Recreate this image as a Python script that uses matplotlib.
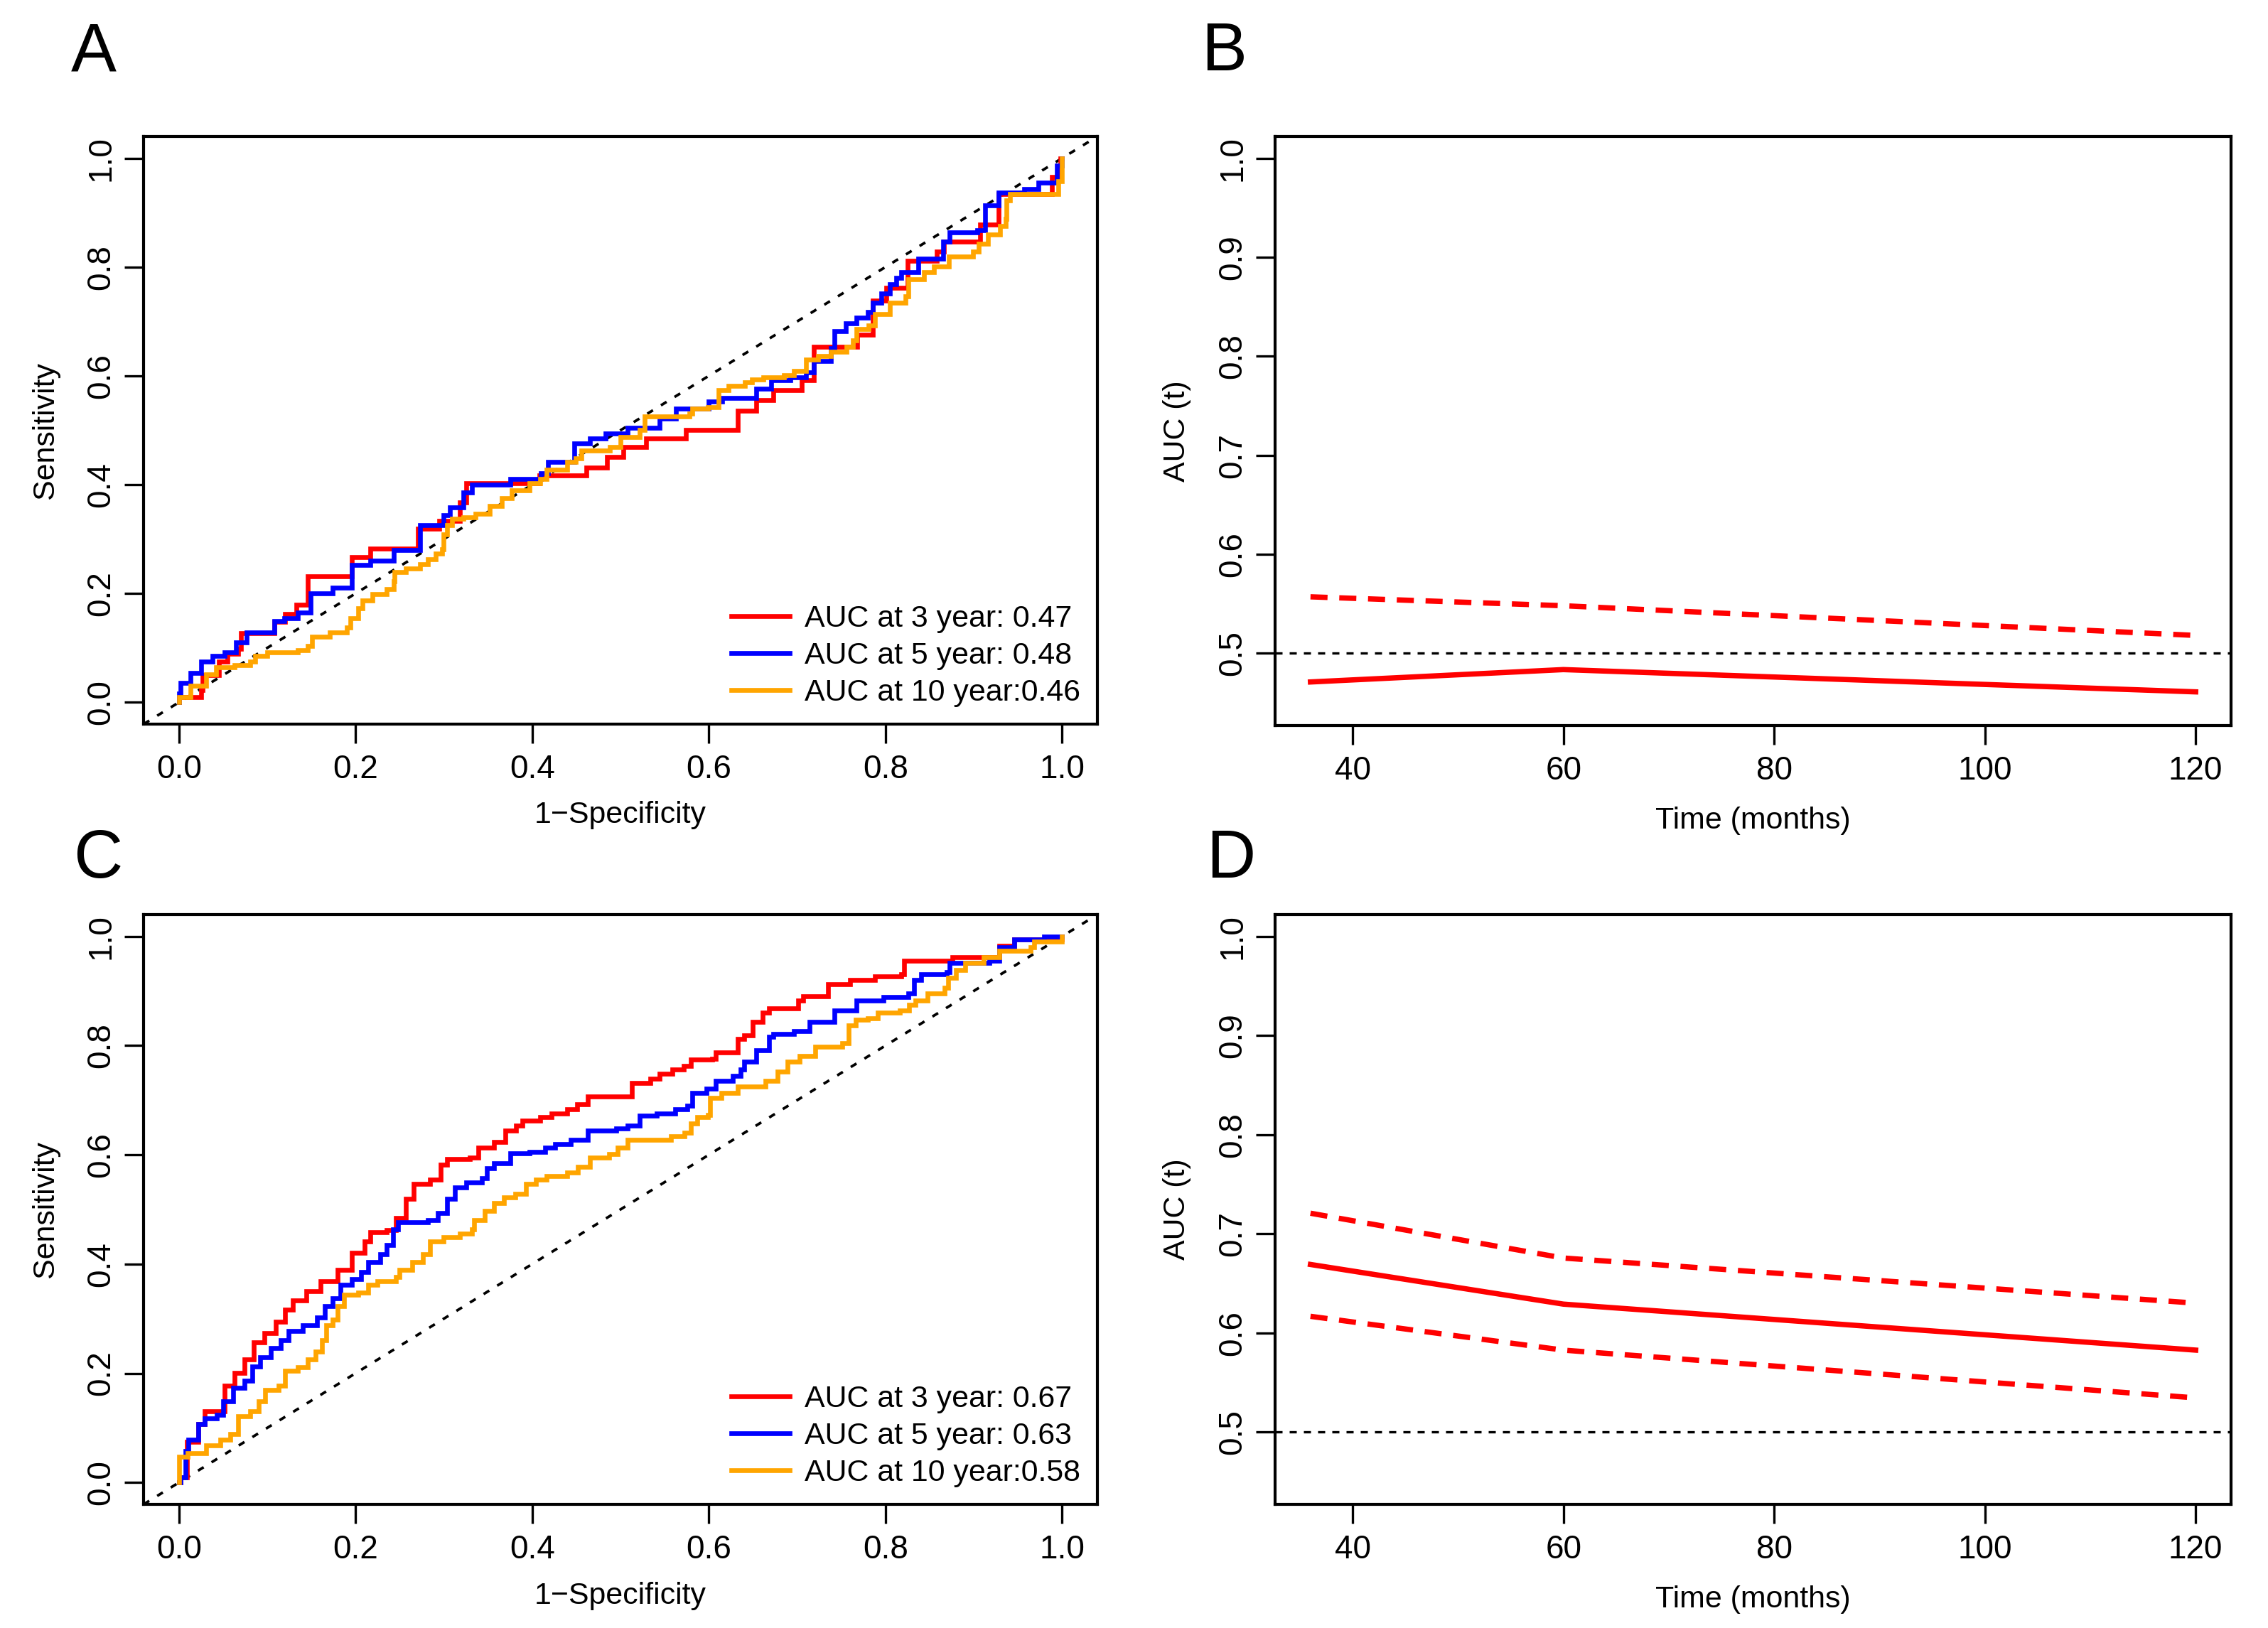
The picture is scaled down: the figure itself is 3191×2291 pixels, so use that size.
import matplotlib
matplotlib.use("Agg")
import matplotlib.pyplot as plt
from matplotlib.lines import Line2D

plt.rcParams['font.family'] = ['Liberation Sans', 'DejaVu Sans']

# ---------------- data ----------------
# Panel A ROC (training-like set)
a_red_x = [0, 0, 0.025, 0.027, 0.045, 0.055, 0.0667, 0.070, 0.108, 0.12, 0.133, 0.146, 0.196, 0.217,
           0.271, 0.2945, 0.318, 0.325, 0.408, 0.461, 0.485, 0.503, 0.529, 0.574, 0.633, 0.654,
           0.673, 0.705, 0.719, 0.768, 0.786, 0.801, 0.825, 0.858, 0.866, 0.907, 0.928, 0.9887, 0.998, 1.0]
a_red_y = [0, 0.009, 0.023, 0.05, 0.075, 0.089, 0.099, 0.127, 0.148, 0.162, 0.18, 0.232, 0.267, 0.282,
           0.319, 0.333, 0.368, 0.403, 0.417, 0.432, 0.451, 0.469, 0.485, 0.501, 0.536, 0.555,
           0.574, 0.592, 0.654, 0.675, 0.738, 0.762, 0.812, 0.829, 0.847, 0.878, 0.934, 0.965, 1.0, 1.0]

a_blue_x = [0, 0, 0.002, 0.013, 0.025, 0.038, 0.052, 0.065, 0.077, 0.108, 0.119, 0.135, 0.149, 0.174,
            0.196, 0.217, 0.243, 0.273, 0.3, 0.307, 0.322, 0.332, 0.375, 0.41, 0.418, 0.448, 0.465,
            0.483, 0.508, 0.544, 0.563, 0.6, 0.615, 0.654, 0.671, 0.692, 0.71, 0.719, 0.738, 0.742,
            0.755, 0.767, 0.78, 0.786, 0.795, 0.805, 0.812, 0.818, 0.837, 0.865, 0.873, 0.904, 0.913,
            0.928, 0.957, 0.973, 0.994, 1.0]
a_blue_y = [0, 0.016, 0.036, 0.054, 0.075, 0.085, 0.092, 0.11, 0.128, 0.149, 0.155, 0.165, 0.2, 0.211,
            0.253, 0.26, 0.28, 0.326, 0.344, 0.358, 0.386, 0.4, 0.41, 0.421, 0.442, 0.476, 0.485,
            0.494, 0.505, 0.522, 0.54, 0.553, 0.559, 0.576, 0.592, 0.597, 0.606, 0.627, 0.651, 0.682,
            0.696, 0.707, 0.717, 0.735, 0.752, 0.768, 0.78, 0.791, 0.815, 0.847, 0.864, 0.867, 0.913,
            0.937, 0.944, 0.955, 0.986, 1.0]

a_orange_x = [0, 0, 0.013, 0.031, 0.042, 0.063, 0.081, 0.086, 0.1, 0.135, 0.146, 0.151, 0.171, 0.19,
              0.194, 0.203, 0.208, 0.219, 0.235, 0.243, 0.244, 0.257, 0.273, 0.282, 0.291, 0.298,
              0.3, 0.304, 0.309, 0.322, 0.336, 0.352, 0.366, 0.377, 0.397, 0.409, 0.416, 0.44, 0.449,
              0.456, 0.488, 0.5, 0.522, 0.527, 0.578, 0.581, 0.599, 0.611, 0.622, 0.641, 0.649, 0.662,
              0.685, 0.696, 0.71, 0.724, 0.738, 0.756, 0.763, 0.767, 0.781, 0.788, 0.805, 0.823,
              0.826, 0.844, 0.855, 0.872, 0.899, 0.906, 0.916, 0.93, 0.936, 0.937, 0.941, 0.974,
              0.996, 1.0]
a_orange_y = [0, 0.01, 0.03, 0.051, 0.064, 0.068, 0.075, 0.085, 0.092, 0.096, 0.103, 0.12, 0.128, 0.138,
              0.155, 0.173, 0.187, 0.199, 0.208, 0.222, 0.239, 0.246, 0.254, 0.263, 0.274, 0.281,
              0.309, 0.326, 0.337, 0.34, 0.347, 0.361, 0.375, 0.389, 0.403, 0.41, 0.428, 0.442, 0.449,
              0.463, 0.469, 0.487, 0.501, 0.525, 0.531, 0.54, 0.543, 0.574, 0.581, 0.588, 0.594, 0.597,
              0.601, 0.609, 0.63, 0.637, 0.644, 0.654, 0.665, 0.686, 0.693, 0.714, 0.735, 0.746,
              0.777, 0.791, 0.801, 0.819, 0.829, 0.843, 0.86, 0.876, 0.888, 0.923, 0.934, 0.934,
              0.958, 1.0]

# Panel C ROC (validation-like set)
c_red_x = [0, 0.002, 0.009, 0.022, 0.029, 0.045, 0.052, 0.063, 0.074, 0.085, 0.097, 0.11, 0.12, 0.129,
           0.144, 0.16, 0.18, 0.196, 0.21, 0.217, 0.235, 0.246, 0.257, 0.266, 0.284, 0.296, 0.3035,
           0.329, 0.339, 0.357, 0.37, 0.382, 0.389, 0.409, 0.422, 0.44, 0.451, 0.463, 0.504, 0.513,
           0.534, 0.544, 0.5585, 0.572, 0.58, 0.604, 0.608, 0.631, 0.633, 0.64, 0.65, 0.661, 0.668,
           0.696, 0.701, 0.707, 0.731, 0.735, 0.76, 0.788, 0.818, 0.821, 0.874, 0.876, 0.922, 0.929,
           0.946, 0.978, 1.0]
c_red_y = [0, 0.009, 0.075, 0.107, 0.131, 0.131, 0.177, 0.201, 0.226, 0.257, 0.274, 0.295, 0.316, 0.334,
           0.351, 0.369, 0.39, 0.421, 0.442, 0.459, 0.462, 0.484, 0.519, 0.547, 0.554, 0.582, 0.592,
           0.595, 0.613, 0.624, 0.644, 0.654, 0.662, 0.669, 0.676, 0.683, 0.693, 0.707, 0.707, 0.732,
           0.739, 0.749, 0.756, 0.763, 0.774, 0.776, 0.788, 0.788, 0.812, 0.819, 0.8435, 0.861, 0.868,
           0.868, 0.882, 0.89, 0.89, 0.913, 0.92, 0.927, 0.931, 0.955, 0.955, 0.962, 0.962, 0.983,
           0.994, 0.994, 1.0]

c_blue_x = [0, 0.002, 0.0075, 0.011, 0.022, 0.029, 0.043, 0.05, 0.061, 0.074, 0.083, 0.092, 0.104, 0.115,
            0.124, 0.14, 0.156, 0.165, 0.174, 0.183, 0.196, 0.2066, 0.214, 0.228, 0.235, 0.2425, 0.248,
            0.282, 0.293, 0.3035, 0.3125, 0.325, 0.343, 0.349, 0.357, 0.375, 0.397, 0.415, 0.426, 0.4435,
            0.463, 0.4955, 0.508, 0.522, 0.541, 0.562, 0.576, 0.581, 0.597, 0.608, 0.627, 0.636, 0.64,
            0.654, 0.668, 0.673, 0.696, 0.714, 0.742, 0.767, 0.798, 0.826, 0.832, 0.8405, 0.869, 0.873,
            0.918, 0.929, 0.946, 0.975, 0.98, 1.0]
c_blue_y = [0, 0.009, 0.058, 0.079, 0.107, 0.117, 0.124, 0.149, 0.173, 0.187, 0.212, 0.229, 0.246, 0.26,
            0.278, 0.288, 0.302, 0.323, 0.337, 0.362, 0.372, 0.386, 0.404, 0.418, 0.435, 0.463, 0.477,
            0.481, 0.494, 0.519, 0.54, 0.55, 0.557, 0.575, 0.585, 0.603, 0.606, 0.613, 0.62, 0.627,
            0.644, 0.648, 0.654, 0.672, 0.676, 0.683, 0.69, 0.714, 0.721, 0.735, 0.745, 0.756, 0.77,
            0.791, 0.816, 0.822, 0.826, 0.8435, 0.864, 0.882, 0.889, 0.896, 0.92, 0.931, 0.934, 0.952,
            0.955, 0.98, 0.994, 0.994, 1.0, 1.0]

c_orange_x = [0, 0, 0, 0.0095, 0.031, 0.047, 0.058, 0.067, 0.081, 0.09, 0.0975, 0.113, 0.12, 0.135,
              0.1455, 0.1546, 0.162, 0.167, 0.174, 0.18, 0.187, 0.203, 0.214, 0.2246, 0.246, 0.25,
              0.264, 0.276, 0.284, 0.3, 0.318, 0.332, 0.334, 0.3466, 0.357, 0.368, 0.381, 0.393, 0.404,
              0.4166, 0.44, 0.452, 0.465, 0.487, 0.497, 0.508, 0.551, 0.557, 0.5726, 0.58, 0.587, 0.599,
              0.601, 0.614, 0.6326, 0.664, 0.678, 0.689, 0.703, 0.7206, 0.751, 0.758, 0.766, 0.78,
              0.791, 0.816, 0.827, 0.834, 0.848, 0.867, 0.871, 0.88, 0.89, 0.911, 0.929, 0.964, 0.968,
              1.0]
c_orange_y = [0, 0.005, 0.047, 0.054, 0.068, 0.079, 0.089, 0.121, 0.131, 0.149, 0.17, 0.177, 0.2046,
              0.211, 0.226, 0.2395, 0.26, 0.288, 0.298, 0.323, 0.344, 0.348, 0.362, 0.369, 0.376,
              0.39, 0.404, 0.418, 0.442, 0.449, 0.456, 0.463, 0.481, 0.498, 0.512, 0.522, 0.529,
              0.547, 0.554, 0.561, 0.568, 0.578, 0.595, 0.602, 0.613, 0.627, 0.627, 0.634, 0.641,
              0.658, 0.669, 0.6725, 0.704, 0.714, 0.725, 0.735, 0.753, 0.77, 0.781, 0.798, 0.805,
              0.8365, 0.847, 0.85, 0.861, 0.864, 0.875, 0.882, 0.896, 0.906, 0.924, 0.938, 0.952,
              0.962, 0.973, 0.98, 0.99, 1.0]

a_labels = ["AUC at 3 year: 0.47", "AUC at 5 year: 0.48", "AUC at 10 year:0.46"]
c_labels = ["AUC at 3 year: 0.67", "AUC at 5 year: 0.63", "AUC at 10 year:0.58"]

# Time-dependent AUC (months)
times = [36, 60, 120]
b_auc = [0.471, 0.4835, 0.461]
b_upper = [0.557, 0.548, 0.518]
b_lower = [0.385, 0.419, 0.404]
d_auc = [0.669, 0.629, 0.5826]
d_upper = [0.7207, 0.6755, 0.630]
d_lower = [0.6167, 0.5826, 0.5344]

roc_ticks = [0.0, 0.2, 0.4, 0.6, 0.8, 1.0]
roc_ticklabels = ["0.0", "0.2", "0.4", "0.6", "0.8", "1.0"]
time_ticks = [40, 60, 80, 100, 120]
auc_ticks = [0.5, 0.6, 0.7, 0.8, 0.9, 1.0]
auc_ticklabels = ["0.5", "0.6", "0.7", "0.8", "0.9", "1.0"]

COL = {"red": "#FF0000", "blue": "#0000FF", "orange": "#FFA500"}

# ---------------- figure ----------------
W, H = 3191, 2291
fig = plt.figure(figsize=(W / 300, H / 300), dpi=300)

def rect(l, t, r, b):
    return [l / W, 1 - b / H, (r - l) / W, (b - t) / H]

axA = fig.add_axes(rect(202, 192, 1544, 1019))
axB = fig.add_axes(rect(1794, 192, 3139, 1021))
axC = fig.add_axes(rect(202, 1287, 1544, 2117))
axD = fig.add_axes(rect(1794, 1287, 3139, 2117))

def style(ax):
    for s in ax.spines.values():
        s.set_linewidth(1.0)
        s.set_color("black")
    ax.tick_params(direction="out", length=6.5, width=0.8, labelsize=11, colors="black")
    ax.tick_params(axis="x", pad=3.5)
    ax.tick_params(axis="y", pad=2.5, labelrotation=90)
    for lab in ax.get_yticklabels():
        lab.set_verticalalignment("center")

def roc_panel(ax, curves, labels):
    ax.set_xlim(-0.04, 1.04)
    ax.set_ylim(-0.04, 1.04)
    ax.axline((0, 0), (1, 1), color="black", lw=0.9, linestyle=(0, (2.5, 3.5)))
    handles = []
    for (x, y), c in zip(curves, ["red", "blue", "orange"]):
        ax.plot(x, y, color=COL[c], lw=1.6, drawstyle="steps-post", solid_joinstyle="miter")
        handles.append(Line2D([], [], color=COL[c], lw=1.6))
    ax.set_xticks(roc_ticks)
    ax.set_xticklabels(roc_ticklabels)
    ax.set_yticks(roc_ticks)
    ax.set_yticklabels(roc_ticklabels)
    style(ax)
    ax.legend(handles, labels, loc="lower right", frameon=False, fontsize=10.3,
              handlelength=1.9, handletextpad=0.5, labelspacing=0.28,
              borderaxespad=0.25, borderpad=0.3)
    ax.text(-0.1028, 0.5, "Sensitivity", transform=ax.transAxes, rotation=90,
            ha="center", va="center", fontsize=10.3)
    ax.text(0.5, -0.155, "1\u2212Specificity", transform=ax.transAxes,
            ha="center", va="center", fontsize=10.3)

def auc_panel(ax, auc, up, lo):
    ax.set_xlim(32.64, 123.36)
    ax.set_ylim(0.427, 1.022)
    ax.axhline(0.5, color="black", lw=0.8, linestyle=(0, (3, 3)))
    ax.plot(times, auc, color=COL["red"], lw=1.8)
    ax.plot(times, up, color=COL["red"], lw=1.8, linestyle=(0, (3.2, 2.2)))
    ax.plot(times, lo, color=COL["red"], lw=1.8, linestyle=(0, (3.2, 2.2)))
    ax.set_xticks(time_ticks)
    ax.set_yticks(auc_ticks)
    ax.set_yticklabels(auc_ticklabels)
    style(ax)
    ax.text(-0.1026, 0.5, "AUC (t)", transform=ax.transAxes, rotation=90,
            ha="center", va="center", fontsize=10.3)
    ax.text(0.5, -0.162, "Time (months)", transform=ax.transAxes,
            ha="center", va="center", fontsize=10.3)

roc_panel(axA, [(a_red_x, a_red_y), (a_blue_x, a_blue_y), (a_orange_x, a_orange_y)], a_labels)
roc_panel(axC, [(c_red_x, c_red_y), (c_blue_x, c_blue_y), (c_orange_x, c_orange_y)], c_labels)
auc_panel(axB, b_auc, b_upper, b_lower)
auc_panel(axD, d_auc, d_upper, d_lower)

for letter, x, y in [("A", 100, 99), ("B", 1690, 99), ("C", 103, 1235), ("D", 1697, 1235)]:
    fig.text(x / W, 1 - y / H, letter, fontsize=23, ha="left", va="baseline")

fig.savefig("out.png", dpi=300)
